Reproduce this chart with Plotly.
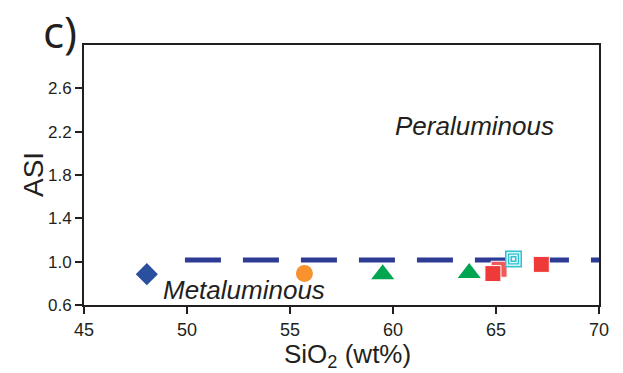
import plotly.graph_objects as go

# ---- data ----
diamond_x = [48.05]
diamond_y = [0.885]
circle_x = [55.7]
circle_y = [0.89]
triangle_x = [59.5, 63.7]
triangle_y = [0.885, 0.895]
square_back_x = [65.15]
square_back_y = [0.93]
square_x = [64.85, 67.2]
square_y = [0.89, 0.975]
cyan_x = [65.85]
cyan_y = [1.025]
asi_line_x = [49.9, 70.0]
asi_line_y = [1.015, 1.015]

x_ticks = [45, 50, 55, 60, 65, 70]
y_ticks = [0.6, 1.0, 1.4, 1.8, 2.2, 2.6]

INK = "#231F20"
FONT = "Liberation Sans, Arial, sans-serif"

fig = go.Figure()

# dashed ASI = 1 boundary
fig.add_trace(go.Scatter(
    x=asi_line_x, y=asi_line_y, mode="lines",
    line=dict(color="#2E3B95", width=5, dash="36px,22px"),
    hoverinfo="skip", showlegend=False))

fig.add_trace(go.Scatter(
    x=diamond_x, y=diamond_y, mode="markers",
    marker=dict(symbol="diamond", size=17, color="#2A4F9E", line=dict(width=0)),
    showlegend=False))
fig.add_trace(go.Scatter(
    x=circle_x, y=circle_y, mode="markers",
    marker=dict(symbol="circle", size=17, color="#F7922F", line=dict(width=0)),
    showlegend=False))
fig.add_trace(go.Scatter(
    x=triangle_x, y=triangle_y, mode="markers",
    marker=dict(symbol="triangle-up", size=20, color="#00A551", line=dict(width=0)),
    showlegend=False))
fig.add_trace(go.Scatter(
    x=square_back_x, y=square_back_y, mode="markers",
    marker=dict(symbol="square", size=16, color="#F05A5A", line=dict(width=1, color="white")),
    showlegend=False))
fig.add_trace(go.Scatter(
    x=square_x, y=square_y, mode="markers",
    marker=dict(symbol="square", size=16, color="#EE3B3A", line=dict(width=1, color="white")),
    showlegend=False))

# concentric cyan square marker (layers)
layers = [(17, "#2EC3D2"), (14, "#D9F4F7"), (11, "#2EC3D2"), (8.5, "#E6F8FA"), (6, "#2EC3D2"), (3, "#E6F8FA")]
for sz, col in layers:
    fig.add_trace(go.Scatter(
        x=cyan_x, y=cyan_y, mode="markers",
        marker=dict(symbol="square", size=sz, color=col, line=dict(width=0)),
        hoverinfo="skip", showlegend=False))

fig.add_annotation(x=60.0, y=2.25, text="<i>Peraluminous</i>", showarrow=False,
                   xanchor="left", yanchor="middle",
                   font=dict(family=FONT, size=26, color=INK))
fig.add_annotation(x=48.75, y=0.74, text="<i>Metaluminous</i>", showarrow=False,
                   xanchor="left", yanchor="middle",
                   font=dict(family=FONT, size=26, color=INK))
fig.add_annotation(x=-0.047, y=1.054, xref="paper", yref="paper", text="c)",
                   showarrow=False, xanchor="center", yanchor="middle",
                   font=dict(family="Open Sans, Liberation Sans, sans-serif", size=44, color=INK))
fig.add_annotation(x=-0.099, y=0.5, xref="paper", yref="paper", text="ASI",
                   showarrow=False, xanchor="center", yanchor="middle", textangle=-90,
                   font=dict(family=FONT, size=28, color=INK))
fig.add_annotation(x=0.512, y=-0.122, xref="paper", yref="paper", text="SiO<sub>2</sub> (wt%)",
                   showarrow=False, xanchor="center", yanchor="top",
                   font=dict(family=FONT, size=26, color=INK))

fig.update_xaxes(range=[45, 70], tickvals=x_ticks, ticktext=[str(v) for v in x_ticks],
                 showgrid=False, zeroline=False, showline=True, linecolor=INK, linewidth=2,
                 mirror=True, ticks="outside", ticklen=7, tickwidth=1.5, tickcolor=INK,
                 tickfont=dict(family=FONT, size=18, color=INK))
fig.update_yaxes(range=[0.6, 3.0], tickvals=y_ticks, ticktext=[f"{v:.1f}" for v in y_ticks],
                 showgrid=False, zeroline=False, showline=True, linecolor=INK, linewidth=2,
                 mirror=True, ticks="outside", ticklen=7, tickwidth=1.5, tickcolor=INK,
                 tickfont=dict(family=FONT, size=17, color=INK))

fig.update_layout(width=623, height=373,
                  margin=dict(l=84, r=24, t=45, b=68),
                  paper_bgcolor="white", plot_bgcolor="white",
                  showlegend=False)

fig.write_html("out.html")
